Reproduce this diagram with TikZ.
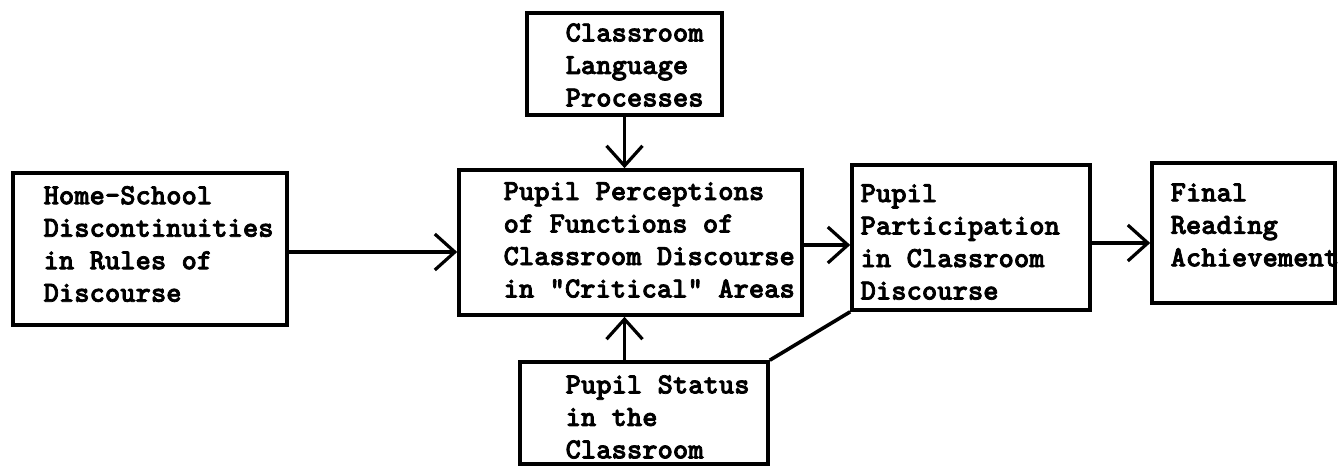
\documentclass[tikz,border=0pt]{standalone}
\usepackage{fontspec}
\newfontfamily\typer{lmmonolt10-bold.otf}[FakeBold=2.5]
\usetikzlibrary{arrows.meta}
\tikzset{
  box/.style={draw, line width=1.8pt, rectangle, inner sep=0pt},
  lbl/.style={anchor=west, inner sep=0pt, align=left,
    font=\fontsize{14.6}{16.25}\selectfont\typer},
  link/.style={line width=1.8pt},
  flow/.style={line width=1.6pt, -{Straight Barb[length=10pt,width=18pt]}},
}
\begin{document}
\begin{tikzpicture}[x=0.5pt,y=-0.5pt]
\useasboundingbox (0,0) rectangle (1339,466);

% boxes
\node[box, minimum width=137pt, minimum height=76pt]   (home) at (150,249) {};
\node[box, minimum width=97.5pt, minimum height=51pt]  (lang) at (624.5,64) {};
\node[box, minimum width=171.5pt, minimum height=72.5pt] (perc) at (630.5,242.5) {};
\node[box, minimum width=124pt, minimum height=51pt]   (stat) at (644,413) {};
\node[box, minimum width=119pt, minimum height=72.5pt] (part) at (971,237.5) {};
\node[box, minimum width=91.5pt, minimum height=70pt]  (fin)  at (1243.5,233) {};

% box texts
\node[lbl, xshift=16pt, yshift=2.5pt] (homet) at (home.west)
  {Home-School\\Discontinuities\\in Rules of\\Discourse};
\node[lbl, xshift=20pt, yshift=-0.5pt] (langt) at (lang.west)
  {Classroom\\Language\\Processes};
\node[lbl, xshift=23pt, yshift=1.25pt] (perct) at (perc.west)
  {Pupil Perceptions\\of Functions of\\Classroom Discourse\\in {\char34}Critical{\char34} Areas};
\node[lbl, xshift=23.5pt, yshift=-2pt] (statt) at (stat.west)
  {Pupil Status\\in the\\Classroom};
\node[lbl, xshift=5pt, yshift=-2.25pt] (partt) at (part.west)
  {Pupil\\Participation\\in Classroom\\Discourse};
\node[lbl, xshift=10pt, yshift=4pt] (fint) at (fin.west)
  {Final\\Reading\\Achievement};

% connectors
\draw[flow] ([yshift=-1.5pt]home.east) -- ([yshift=-1.5pt]home.east -| perc.west);
\draw[flow] (lang.south) -- (lang.south |- perc.north);
\draw[flow] (stat.north -| lang.south) -- (lang.south |- perc.south);
\draw[flow] ([yshift=-1.25pt]perc.east) -- ([yshift=-1.25pt]perc.east -| part.west);
\draw[flow] ([yshift=-2.75pt]part.east) -- ([yshift=-2.75pt]part.east -| fin.west);
\draw[link] (stat.north east) -- (part.south west);
\end{tikzpicture}
\end{document}
